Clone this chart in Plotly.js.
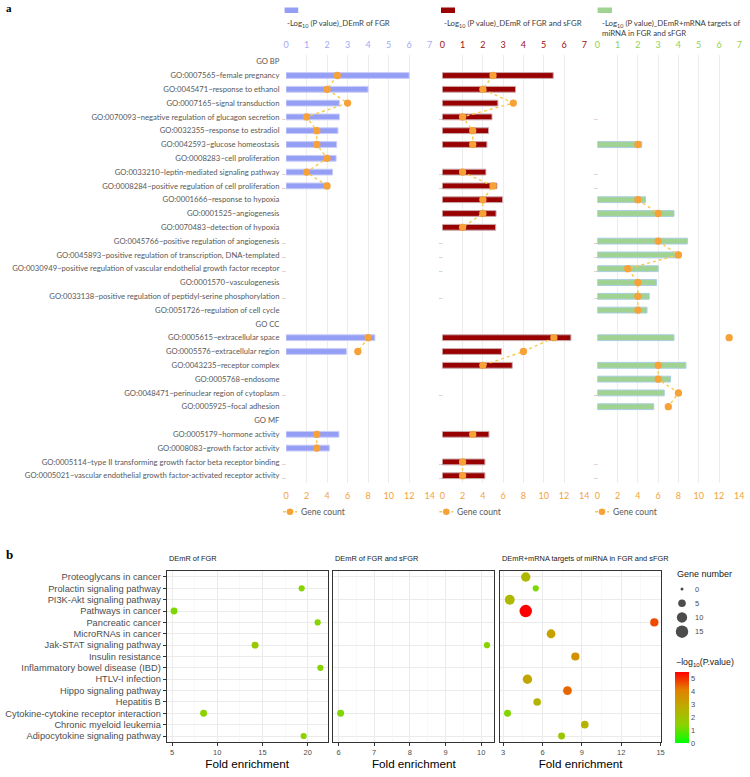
<!DOCTYPE html>
<html>
<head>
<meta charset="utf-8">
<script src="https://cdn.plot.ly/plotly-3.0.1.min.js"></script>
<style>
  html, body { margin: 0; padding: 0; background: #ffffff; }
  #chart { width: 750px; height: 777px; }
</style>
</head>
<body>
<div id="chart"></div>
<script>
// ---------- Panel a: GO enrichment ----------
const goTerms = [
  "GO BP",
  "GO:0007565~female pregnancy",
  "GO:0045471~response to ethanol",
  "GO:0007165~signal transduction",
  "GO:0070093~negative regulation of glucagon secretion",
  "GO:0032355~response to estradiol",
  "GO:0042593~glucose homeostasis",
  "GO:0008283~cell proliferation",
  "GO:0033210~leptin-mediated signaling pathway",
  "GO:0008284~positive regulation of cell proliferation",
  "GO:0001666~response to hypoxia",
  "GO:0001525~angiogenesis",
  "GO:0070483~detection of hypoxia",
  "GO:0045766~positive regulation of angiogenesis",
  "GO:0045893~positive regulation of transcription, DNA-templated",
  "GO:0030949~positive regulation of vascular endothelial growth factor receptor",
  "GO:0001570~vasculogenesis",
  "GO:0033138~positive regulation of peptidyl-serine phosphorylation",
  "GO:0051726~regulation of cell cycle",
  "GO CC",
  "GO:0005615~extracellular space",
  "GO:0005576~extracellular region",
  "GO:0043235~receptor complex",
  "GO:0005768~endosome",
  "GO:0048471~perinuclear region of cytoplasm",
  "GO:0005925~focal adhesion",
  "GO MF",
  "GO:0005179~hormone activity",
  "GO:0008083~growth factor activity",
  "GO:0005114~type II transforming growth factor beta receptor binding",
  "GO:0005021~vascular endothelial growth factor-activated receptor activity"
];

// category labels that the axis shortens with ".."
const truncatedTerms = [
  "GO:0070093~negative regulation of glucagon secretion",
  "GO:0033210~leptin-mediated signaling pathway",
  "GO:0008284~positive regulation of cell proliferation",
  "GO:0045766~positive regulation of angiogenesis",
  "GO:0045893~positive regulation of transcription, DNA-templated",
  "GO:0030949~positive regulation of vascular endothelial growth factor receptor",
  "GO:0033138~positive regulation of peptidyl-serine phosphorylation",
  "GO:0048471~perinuclear region of cytoplasm",
  "GO:0005114~type II transforming growth factor beta receptor binding",
  "GO:0005021~vascular endothelial growth factor-activated receptor activity"
];

// -log10(P) and gene counts, DEmR of FGR
const logP_FGR = [null, 6.0, 4.0, 2.6, 2.6, 2.53, 2.47, 2.44, 2.27, 2.11,
  null, null, null, null, null, null, null, null, null,
  null, 4.33, 2.94, null, null, null, null,
  null, 2.58, 2.11, null, null];
const count_FGR = [null, 5, 4, 6, 2, 3, 3, 4, 2, 4,
  null, null, null, null, null, null, null, null, null,
  null, 8, 7, null, null, null, null,
  null, 3, 3, null, null];

// DEmR of FGR and sFGR
const logP_FGRs = [null, 5.47, 3.61, 2.74, 2.45, 2.28, 2.20, null, 2.15, 2.69,
  2.97, 2.65, 2.63, null, null, null, null, null, null,
  null, 6.34, 2.92, 3.45, null, null, null,
  null, 2.30, null, 2.10, 2.10];
const count_FGRs = [null, 5, 4, 7, 2, 3, 3, null, 2, 5,
  4, 4, 2, null, null, null, null, null, null,
  null, 11, 8, 4, null, null, null,
  null, 3, null, 2, 2];

// DEmR + mRNA targets of miRNA in FGR and sFGR
const logP_target = [null, null, null, null, null, null, 2.19, null, null, null,
  2.38, 3.78, null, 4.44, 4.01, 3.00, 2.92, 2.56, 2.45,
  null, 3.78, null, 4.37, 3.61, 3.30, 2.78,
  null, null, null, null, null];
const count_target = [null, null, null, null, null, null, 4, null, null, null,
  4, 6, null, 6, 8, 3, 4, 4, 4,
  null, 13, null, 6, 6, 8, 7,
  null, null, null, null, null];

const pTickVals = [0, 1, 2, 3, 4, 5, 6, 7];
const countTickVals = [0, 2, 4, 6, 8, 10, 12, 14];

// ---------- Panel b: KEGG pathways ----------
const pathways = [
  "Proteoglycans in cancer",
  "Prolactin signaling pathway",
  "PI3K-Akt signaling pathway",
  "Pathways in cancer",
  "Pancreatic cancer",
  "MicroRNAs in cancer",
  "Jak-STAT signaling pathway",
  "Insulin resistance",
  "Inflammatory bowel disease (IBD)",
  "HTLV-I infection",
  "Hippo signaling pathway",
  "Hepatitis B",
  "Cytokine-cytokine receptor interaction",
  "Chronic myeloid leukemia",
  "Adipocytokine signaling pathway"
];

const fold_FGR = [null, 19.33, null, 5.22, 21.1, null, 14.18, null, 21.4, null, null, null, 8.49, null, 19.55];
const genes_FGR = [null, 3, null, 4, 3, null, 4, null, 3, null, null, null, 4, null, 3];
const mlogP_FGR = [null, 1.35, null, 1.25, 1.35, null, 1.75, null, 1.35, null, null, null, 1.4, null, 1.45];

const fold_FGRs = [null, null, null, null, null, null, 10.16, null, null, null, null, null, 6.06, null, null];
const genes_FGRs = [null, null, null, null, null, null, 3, null, null, null, null, null, 4, null, null];
const mlogP_FGRs = [null, null, null, null, null, null, 1.4, null, null, null, null, null, 1.3, null, null];

const fold_target = [4.72, 5.48, 3.5, 4.72, 14.52, 6.65, null, 8.5, null, 4.85, 7.9, 5.59, 3.33, 9.22, 7.45];
const genes_target = [8, 3, 9, 15, 6, 7, null, 6, null, 8, 7, 5, 4, 5, 4];
const mlogP_target = [2.4, 1.25, 2.3, 5.5, 4.7, 3.1, null, 3.6, null, 3.0, 4.4, 2.5, 1.3, 2.6, 1.8];

const sizeLegendValues = [0, 5, 10, 15];
const colorTickVals = [0, 1, 2, 3, 4, 5];

// ---------- helpers ----------
const W = 750, H = 777;
const px = x => x / W;
const py = y => 1 - y / H;

// bubble diameter: area grows linearly with gene number (3 px at 0, 12.5 px at 15)
const geneSize = n => (n == null ? 0 : Math.sqrt(9 + (156.25 - 9) * n / 15));

// green -> red gradient interpolated through olive/orange
const greenRed = [
  [0, '#00ff00'], [0.25, '#8ad300'], [0.5, '#bcad00'], [0.75, '#e27f00'], [1, '#ff0000']
];

const labelFont = 'Lato, "Open Sans", sans-serif';
const arial = '"Liberation Sans", Arial, sans-serif';

const goDomainY = [py(482.6), py(54.8)];
const goPanels = [
  { p: logP_FGR, n: count_FGR, fill: '#959ef5', edge: '#c9cdf6', tick: '#a3a9f2',
    dom: [px(286), px(429.7)], xp: 'x', xc: 'x2', y: 'y', dotX: 283.5,
    key: [284.6, 298.2], text: '-Log<sub>10</sub> (P value)_DEmR of FGR', tx: 285, gc: 283 },
  { p: logP_FGRs, n: count_FGRs, fill: '#990000', edge: '#c8a9ad', tick: '#9e1010',
    dom: [px(442.3), px(584.3)], xp: 'x3', xc: 'x4', y: 'y2', dotX: 440.5,
    key: [441, 455], text: '-Log<sub>10</sub> (P value)_DEmR of FGR and sFGR', tx: 442, gc: 439.3 },
  { p: logP_target, n: count_target, fill: '#a0d292', edge: '#a9cde0', tick: '#92d050',
    dom: [px(597.3), px(739.3)], xp: 'x5', xc: 'x6', y: 'y3', dotX: 596,
    key: [597.6, 612], text: '-Log<sub>10</sub> (P value)_DEmR+mRNA targets of<br>miRNA in FGR and sFGR', tx: 599.5, gc: 595 }
];

const traces = [];
const layout = {
  width: W, height: H,
  margin: { l: 0, r: 0, t: 0, b: 0, pad: 0 },
  paper_bgcolor: '#ffffff', plot_bgcolor: 'rgba(0,0,0,0)',
  showlegend: false,
  font: { family: labelFont, color: '#404040' },
  annotations: [], shapes: []
};

goPanels.forEach((g, i) => {
  const pIdx = 2 * i + 1, cIdx = 2 * i + 2, yIdx = i + 1;
  const pName = pIdx === 1 ? 'xaxis' : 'xaxis' + pIdx;
  const cName = 'xaxis' + cIdx;
  const yName = yIdx === 1 ? 'yaxis' : 'yaxis' + yIdx;

  traces.push({
    type: 'bar', orientation: 'h', x: g.p, y: goTerms,
    xaxis: g.xp, yaxis: g.y, width: 0.42,
    marker: { color: g.fill, line: { color: g.edge, width: 1 } },
    hoverinfo: 'skip'
  });
  traces.push({
    type: 'scatter', mode: 'lines+markers', x: g.n, y: goTerms,
    xaxis: g.xc, yaxis: g.y, connectgaps: false, cliponaxis: false,
    line: { color: '#f8c94a', width: 1.4, dash: 'dot' },
    marker: { color: '#f7a239', size: 7.3 },
    hoverinfo: 'skip'
  });

  layout[pName] = {
    domain: g.dom, anchor: g.y, side: 'top', range: [0, 7],
    tickvals: pTickVals, showgrid: true, gridcolor: '#ececec', gridwidth: 1,
    zeroline: false, showline: false, ticks: 'outside', ticklen: 2, tickcolor: 'rgba(0,0,0,0)',
    tickfont: { family: labelFont, size: 9, color: g.tick }, fixedrange: true
  };
  layout[cName] = {
    domain: g.dom, overlaying: g.xp, anchor: g.y, side: 'bottom', range: [0, 14],
    tickvals: countTickVals, showgrid: false, zeroline: false, showline: false,
    ticks: 'outside', ticklen: 5, tickcolor: 'rgba(0,0,0,0)',
    tickfont: { family: labelFont, size: 9, color: '#f2a23c' }, fixedrange: true
  };
  layout[yName] = {
    domain: goDomainY, anchor: g.xp, type: 'category',
    categoryorder: 'array', categoryarray: goTerms, range: [goTerms.length - 0.5, -0.5],
    showgrid: false, zeroline: false, showline: false,
    showticklabels: i === 0, ticks: i === 0 ? 'outside' : '', ticklen: 4,
    tickcolor: 'rgba(0,0,0,0)',
    tickfont: { family: labelFont, size: 7.7, color: '#595959' },
    automargin: false, fixedrange: true
  };

  // ".." marks where the category label is shortened
  truncatedTerms.forEach(t => {
    layout.annotations.push({
      xref: 'paper', yref: g.y, x: px(g.dotX), y: goTerms.indexOf(t),
      text: '..', showarrow: false, xanchor: 'center', yanchor: 'middle', yshift: 0,
      font: { family: labelFont, size: 7, color: '#9a9a9a' }
    });
  });

  // series key above each panel
  layout.shapes.push({
    type: 'rect', xref: 'paper', yref: 'paper',
    x0: px(g.key[0]), x1: px(g.key[1]), y0: py(13), y1: py(7.5),
    fillcolor: g.fill, line: { width: 0 }
  });
  layout.annotations.push({
    xref: 'paper', yref: 'paper', x: px(g.tx), y: py(15.5), xanchor: 'left', yanchor: 'top',
    align: 'left', text: g.text, showarrow: false,
    font: { family: labelFont, size: 7.8, color: '#404040' }
  });

  // gene count key below each panel
  layout.shapes.push({
    type: 'line', xref: 'paper', yref: 'paper',
    x0: px(g.gc), x1: px(g.gc + 14), y0: py(511.7), y1: py(511.7),
    line: { color: '#f8c94a', width: 1.4, dash: 'dot' }
  });
  layout.shapes.push({
    type: 'circle', xref: 'paper', yref: 'paper',
    x0: px(g.gc + 7 - 3.3), x1: px(g.gc + 7 + 3.3), y0: py(511.7 + 3.3), y1: py(511.7 - 3.3),
    fillcolor: '#f7a239', line: { width: 0 }
  });
  layout.annotations.push({
    xref: 'paper', yref: 'paper', x: px(g.gc + 16), y: py(511.7), xanchor: 'left', yanchor: 'middle',
    text: 'Gene count', showarrow: false,
    font: { family: labelFont, size: 8.6, color: '#595959' }
  });
});

// ---------- panel b subplots ----------
const bDomainY = [py(741.7), py(571.3)];
const bPanels = [
  { fold: fold_FGR, genes: genes_FGR, mlogp: mlogP_FGR, dom: [px(166.7), px(327.7)],
    range: [4.41, 22.21], dtick: 5, minor: 2.5, title: 'DEmR of FGR', tx: 166.7 },
  { fold: fold_FGRs, genes: genes_FGRs, mlogp: mlogP_FGRs, dom: [px(333.3), px(494.3)],
    range: [5.855, 10.365], dtick: 1, minor: 0.5, title: 'DEmR of FGR and sFGR', tx: 333.3 },
  { fold: fold_target, genes: genes_target, mlogp: mlogP_target, dom: [px(500.3), px(661)],
    range: [2.78, 15.03], dtick: 3, minor: 1.5, title: 'DEmR+mRNA targets of miRNA in FGR and sFGR', tx: 500.3 }
];

bPanels.forEach((b, i) => {
  const xIdx = 7 + i, yIdx = 4 + i;
  const last = i === bPanels.length - 1;
  traces.push({
    type: 'scatter', mode: 'markers', x: b.fold, y: pathways,
    xaxis: 'x' + xIdx, yaxis: 'y' + yIdx, cliponaxis: false,
    marker: {
      size: b.genes.map(geneSize), color: b.mlogp, colorscale: greenRed,
      cmin: 0, cmax: 5.5, opacity: 1, line: { width: 0 },
      showscale: last,
      colorbar: last ? {
        x: px(675), xanchor: 'left', xref: 'paper',
        y: py(743.3), yanchor: 'bottom', yref: 'paper',
        len: 70.6, lenmode: 'pixels', thickness: 14, thicknessmode: 'pixels',
        outlinewidth: 0, xpad: 0, ypad: 0, ticks: '', tickvals: colorTickVals,
        tickfont: { family: arial, size: 7.5, color: '#4d4d4d' }
      } : undefined
    },
    hoverinfo: 'skip'
  });

  layout['xaxis' + xIdx] = {
    domain: b.dom, anchor: 'y' + yIdx, range: b.range, tick0: 0, dtick: b.dtick,
    showgrid: true, gridcolor: '#ebebeb', gridwidth: 1,
    minor: { dtick: b.minor, tick0: 0, showgrid: true, gridcolor: '#f5f5f5', gridwidth: 0.6, ticks: '' },
    showline: true, mirror: true, linecolor: '#333333', linewidth: 1,
    ticks: 'outside', ticklen: 3, tickcolor: '#333333', zeroline: false,
    tickfont: { family: arial, size: 7.5, color: '#4d4d4d' },
    title: { text: 'Fold enrichment', font: { family: arial, size: 11.7, color: '#000000' }, standoff: 3 },
    automargin: false, fixedrange: true
  };
  layout['yaxis' + yIdx] = {
    domain: bDomainY, anchor: 'x' + xIdx, type: 'category',
    categoryorder: 'array', categoryarray: pathways, range: [pathways.length - 0.5, -0.5],
    showgrid: true, gridcolor: '#ebebeb', gridwidth: 1, zeroline: false,
    showline: true, mirror: true, linecolor: '#333333', linewidth: 1,
    showticklabels: i === 0, ticks: i === 0 ? 'outside' : '', ticklen: 3, tickcolor: '#333333',
    tickfont: { family: arial, size: 9.3, color: '#4d4d4d' },
    automargin: false, fixedrange: true
  };

  layout.annotations.push({
    xref: 'paper', yref: 'paper', x: px(b.tx), y: py(558), xanchor: 'left', yanchor: 'middle',
    text: b.title, showarrow: false, font: { family: arial, size: 7.4, color: '#1a1a1a' }
  });
});

// colour key title
layout.annotations.push({
  xref: 'paper', yref: 'paper', x: px(674), y: py(662), xanchor: 'left', yanchor: 'middle',
  text: '\u2212log<sub>10</sub>(P.value)', showarrow: false,
  font: { family: arial, size: 8.8, color: '#1a1a1a' }
});

// gene number size key
traces.push({
  type: 'scatter', mode: 'markers',
  x: sizeLegendValues.map(() => 0), y: sizeLegendValues.map((v, k) => k),
  xaxis: 'x10', yaxis: 'y7', cliponaxis: false,
  marker: { size: sizeLegendValues.map(geneSize), color: '#000000', line: { width: 0 } },
  hoverinfo: 'skip'
});
layout.xaxis10 = { domain: [px(670), px(694)], anchor: 'y7', range: [-1, 1], visible: false, fixedrange: true };
layout.yaxis7 = { domain: [py(638.8), py(581.9)], anchor: 'x10', range: [3.5, -0.5], visible: false, fixedrange: true };
sizeLegendValues.forEach((v, k) => {
  layout.annotations.push({
    xref: 'paper', yref: 'y7', x: px(692.5), y: k, xanchor: 'left', yanchor: 'middle',
    text: String(v), showarrow: false, font: { family: arial, size: 7.5, color: '#4d4d4d' }
  });
});
layout.annotations.push({
  xref: 'paper', yref: 'paper', x: px(675), y: py(574), xanchor: 'left', yanchor: 'middle',
  text: 'Gene number', showarrow: false, font: { family: arial, size: 9, color: '#1a1a1a' }
});

// panel letters
layout.annotations.push({
  xref: 'paper', yref: 'paper', x: px(4), y: py(8), xanchor: 'left', yanchor: 'middle',
  text: '<b>a</b>', showarrow: false, font: { family: '"Liberation Serif", serif', size: 11, color: '#000' }
});
layout.annotations.push({
  xref: 'paper', yref: 'paper', x: px(4), y: py(554), xanchor: 'left', yanchor: 'middle',
  text: '<b>b</b>', showarrow: false, font: { family: '"Liberation Serif", serif', size: 13, color: '#000' }
});

Plotly.newPlot('chart', traces, layout, { staticPlot: true, displayModeBar: false });
</script>
</body>
</html>
